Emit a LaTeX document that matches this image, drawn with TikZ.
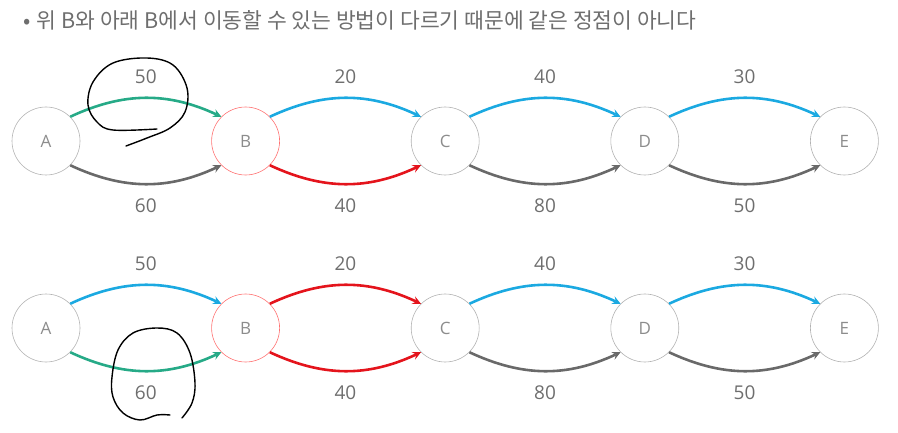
\documentclass[tikz,border=0pt]{standalone}
\usepackage{fontspec}
\setmainfont{Open Sans}
\newfontfamily\kor{Noto Sans CJK KR}
\usetikzlibrary{arrows, positioning}
\definecolor{edgegreen}{RGB}{38,170,135}
\definecolor{edgeblue}{RGB}{27,169,225}
\definecolor{edgered}{RGB}{228,20,28}
\definecolor{edgegray}{RGB}{105,105,105}
\definecolor{labelgray}{RGB}{110,110,110}
\tikzstyle{vertex} = [circle, minimum size=68pt, inner sep=0pt, draw=black!30, line width=0.6pt, text=black!45, font=\fontsize{17}{17}\selectfont]
\tikzstyle{marked} = [vertex, draw=red!55]
\tikzstyle{arrow} = [line width=2.6pt,->,>=stealth]
\tikzstyle{upper} = [arrow, out=25, in=155]
\tikzstyle{lower} = [arrow, out=-25, in=-155]
\tikzstyle{weight} = [text=labelgray, font=\fontsize{19}{19}\selectfont]
\tikzstyle{scribble} = [line width=1.4pt, black, line cap=round, line join=round]

\begin{document}
\begin{tikzpicture}[x=1pt, y=1pt, node distance=131pt]
\useasboundingbox (0,0) rectangle (898,432);

% Title
\node (title) [anchor=base west, text=labelgray, font=\kor\fontsize{21.5}{21.5}\selectfont] at (20,403) {•\hspace{6pt}위 B와 아래 B에서 이동할 수 있는 방법이 다르기 때문에 같은 정점이 아니다};

% Upper row
\node (A1) [vertex] at (46,291) {A};
\node (B1) [marked, right=of A1] {B};
\node (C1) [vertex, right=of B1] {C};
\node (D1) [vertex, right=of C1] {D};
\node (E1) [vertex, right=of D1] {E};

% Lower row
\node (A2) [vertex] at (46,104) {A};
\node (B2) [marked, right=of A2] {B};
\node (C2) [vertex, right=of B2] {C};
\node (D2) [vertex, right=of C2] {D};
\node (E2) [vertex, right=of D2] {E};

% Edges, upper row
\draw [upper, edgegreen] (A1.45) to node[weight, midway, above=10pt] {50} (B1.135);
\draw [lower, edgegray] (A1.-45) to node[weight, midway, below=10pt] {60} (B1.-135);
\draw [upper, edgeblue] (B1.45) to node[weight, midway, above=10pt] {20} (C1.135);
\draw [lower, edgered] (B1.-45) to node[weight, midway, below=10pt] {40} (C1.-135);
\draw [upper, edgeblue] (C1.45) to node[weight, midway, above=10pt] {40} (D1.135);
\draw [lower, edgegray] (C1.-45) to node[weight, midway, below=10pt] {80} (D1.-135);
\draw [upper, edgeblue] (D1.45) to node[weight, midway, above=10pt] {30} (E1.135);
\draw [lower, edgegray] (D1.-45) to node[weight, midway, below=10pt] {50} (E1.-135);

% Edges, lower row
\draw [upper, edgeblue] (A2.45) to node[weight, midway, above=10pt] {50} (B2.135);
\draw [lower, edgegreen] (A2.-45) to node[weight, midway, below=10pt] {60} (B2.-135);
\draw [upper, edgered] (B2.45) to node[weight, midway, above=10pt] {20} (C2.135);
\draw [lower, edgered] (B2.-45) to node[weight, midway, below=10pt] {40} (C2.-135);
\draw [upper, edgeblue] (C2.45) to node[weight, midway, above=10pt] {40} (D2.135);
\draw [lower, edgegray] (C2.-45) to node[weight, midway, below=10pt] {80} (D2.-135);
\draw [upper, edgeblue] (D2.45) to node[weight, midway, above=10pt] {30} (E2.135);
\draw [lower, edgegray] (D2.-45) to node[weight, midway, below=10pt] {50} (E2.-135);

% Hand-drawn loops
\draw [scribble] plot[smooth, tension=0.6] coordinates {(157,303) (113,302) (97,310) (88,327) (93,350) (113,369) (147,374) (173,367) (187,344) (185,320) (170,304) (147,294) (126,286)};
\draw [scribble] plot[smooth, tension=0.6] coordinates {(170,17) (157,17) (140,12) (123,19) (113,35) (112,55) (118,82) (133,99) (157,104) (177,99) (190,79) (195,49) (192,29) (182,14)};

\end{tikzpicture}
\end{document}
